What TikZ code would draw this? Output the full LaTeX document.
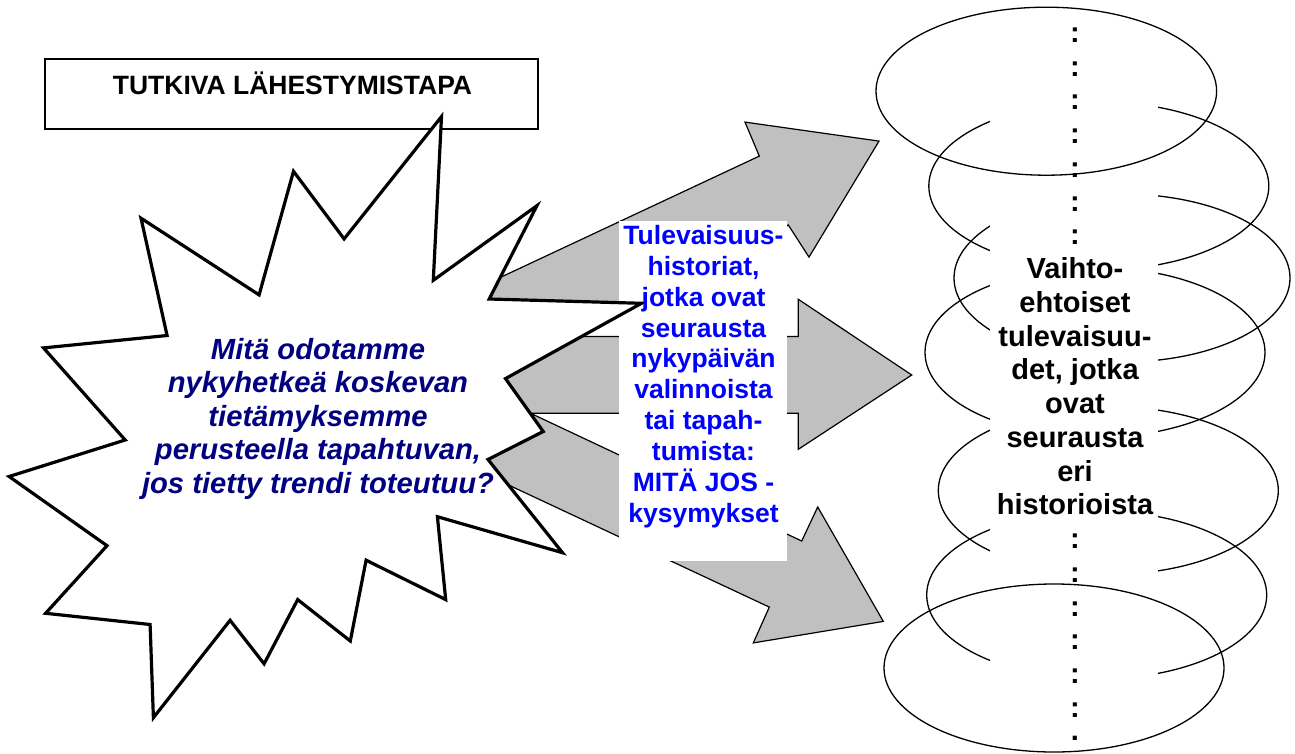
\documentclass[tikz,border=0pt]{standalone}
\usepackage{fontspec}
\setmainfont{Liberation Sans}
\definecolor{arrowgray}{HTML}{C0C0C0}
\definecolor{navytext}{HTML}{000080}
\definecolor{bluetext}{HTML}{0000FF}
\begin{document}
\begin{tikzpicture}[x=1pt,y=-1pt,
  framebox/.style={draw=black, line width=1.6pt},
  blockarrow/.style={draw=black, fill=arrowgray, line width=1.2pt, line join=miter},
  burst/.style={draw=black, fill=white, line width=3.2pt, line join=miter, miter limit=20},
  ring/.style={draw=black, line width=1.3pt},
  titletext/.style={inner sep=0pt, font=\fontsize{26.5}{31}\selectfont\bfseries},
  questiontext/.style={inner sep=0pt, text=navytext, font=\fontsize{29.2}{33.5}\selectfont\bfseries\itshape},
  historytext/.style={inner sep=0pt, text=bluetext, font=\fontsize{26.5}{30.8}\selectfont\bfseries},
  futuretext/.style={inner sep=0pt, font=\fontsize{29}{33.7}\selectfont\bfseries}]
\useasboundingbox (0,0) rectangle (1295,754);

% title frame
\draw[framebox] (45,59) rectangle (538,129);
\node[titletext, anchor=base] (title) at (292.5,95) {TUTKIVA LÄHESTYMISTAPA};

% three block arrows leaving the burst
\draw[blockarrow] (450,301) -- (759.3,156.1) -- (745,122.1) -- (879,141.1)
  -- (809,257.1) -- (788.3,225) -- (450,383.3) -- cycle;
\draw[blockarrow] (450,336.4) -- (798.3,336.4) -- (798.3,299.3) -- (911.7,375)
  -- (798.3,449.3) -- (798.3,413.2) -- (450,413.2) -- cycle;
\draw[blockarrow] (450,375.3) -- (801.7,541) -- (817.7,507) -- (883.3,621.4)
  -- (753.3,642.9) -- (769.3,607.1) -- (450,457.6) -- cycle;

% white panel behind the history text
\fill[white] (619,221.4) rectangle (786.7,561.4);

% explosion shape
\draw[burst] (441.5,116.6) -- (433.3,280.3) -- (536.9,205.7) -- (489.2,299.0)
  -- (641.5,303.3) -- (505.5,378.6) -- (543.2,431.5) -- (488,459.5)
  -- (562.5,552.7) -- (437.4,516.7) -- (445.7,599.6) -- (366.1,560.2)
  -- (350.3,641.0) -- (297.7,599.6) -- (264.1,663.8) -- (230.1,620.3)
  -- (153.4,717.7) -- (150.1,624.5) -- (45.6,613.3) -- (107.0,545.7)
  -- (9.1,476.5) -- (125.2,440.0) -- (43.5,347.9) -- (167.1,335.5)
  -- (141.0,218.2) -- (259.1,294.9) -- (293.5,171.3) -- (344.1,238.9) -- cycle;

% question inside the burst
\foreach \t [count=\i from 0] in {Mitä odotamme, nykyhetkeä koskevan, tietämyksemme,
    {perusteella tapahtuvan,}, jos tietty trendi toteutuu?}
  \node[questiontext, anchor=base] (q\i) at (318,359.1+33.5*\i) {\t};

% history text on the panel
\foreach \t [count=\i from 0] in {Tulevaisuus-, {historiat,}, jotka ovat, seurausta,
    nykypäivän, valinnoista, tai tapah-, tumista:, MITÄ JOS -, kysymykset}
  \node[historytext, anchor=base] (h\i) at (703.5,244.6+30.83*\i) {\t};

% stack of alternative futures
\draw[ring] (1098.8,186) ellipse [x radius=170, y radius=84];
\draw[ring] (1122,278) ellipse [x radius=168, y radius=84];
\draw[ring] (1095,352.4) ellipse [x radius=170, y radius=85];
\draw[ring] (1108.3,490.5) ellipse [x radius=170, y radius=84];
\draw[ring] (1096.7,595) ellipse [x radius=170, y radius=84];
\fill[white] (990,97) rectangle (1158.3,685);
\draw[ring] (1046.3,91.2) ellipse [x radius=170.3, y radius=84];
\draw[ring] (1054,668) ellipse [x radius=170, y radius=84];

% central column of the stack
\foreach \t [count=\i from 0] in {:, :, :, :, :, :, :, Vaihto-, ehtoiset, tulevaisuu-,
    {det, jotka}, ovat, seurausta, eri, historioista, :, :, :, :, :, :}
  \node[futuretext, anchor=base] (f\i) at (1075,42.5+33.74*\i) {\t};
% the column runs off the page: only one dot of the last row remains
\node[futuretext, anchor=base] (f21) at (1075,740.5) {.};
\end{tikzpicture}
\end{document}
